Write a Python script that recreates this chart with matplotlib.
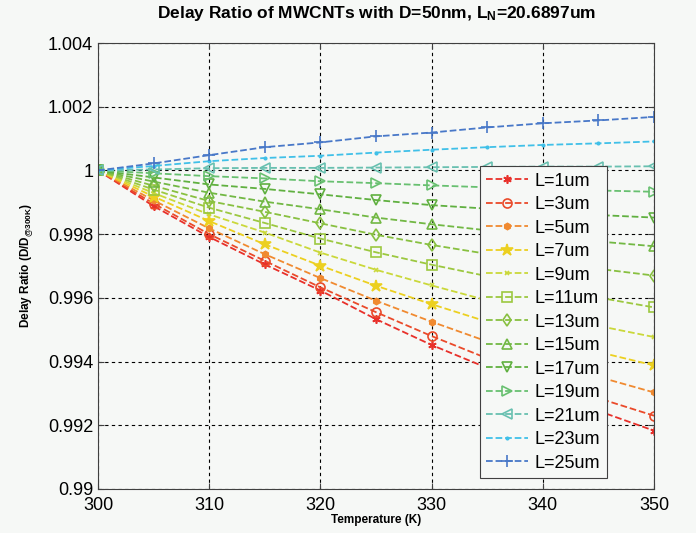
import matplotlib.pyplot as plt

plt.rcParams['font.family'] = ['Liberation Sans', 'DejaVu Sans']
plt.rcParams['mathtext.default'] = 'regular'

# temperature (K)
temps = [300, 305, 310, 315, 320, 325, 330, 335, 340, 345, 350]
lengths = [1, 3, 5, 7, 9, 11, 13, 15, 17, 19, 21, 23, 25]

# delay ratio D/D@300K
r_l1 = [1, 0.99888, 0.99791, 0.99705, 0.99623, 0.99533, 0.99452, 0.99380, 0.99310, 0.99245, 0.99183]
r_l3 = [1, 0.99896, 0.99800, 0.99716, 0.99633, 0.99555, 0.99480, 0.99410, 0.99345, 0.99285, 0.99230]
r_l5 = [1, 0.99906, 0.99818, 0.99737, 0.99662, 0.99591, 0.99525, 0.99463, 0.99405, 0.99352, 0.99303]
r_l7 = [1, 0.99918, 0.99841, 0.99768, 0.99701, 0.99638, 0.99580, 0.99525, 0.99476, 0.99430, 0.99388]
r_l9 = [1, 0.99929, 0.99862, 0.99805, 0.99742, 0.99688, 0.99639, 0.99592, 0.99550, 0.99512, 0.99477]
r_l11 = [1, 0.99940, 0.99883, 0.99835, 0.99786, 0.99743, 0.99704, 0.99668, 0.99634, 0.99601, 0.99570]
r_l13 = [1, 0.99952, 0.99904, 0.99870, 0.99834, 0.99798, 0.99766, 0.99738, 0.99713, 0.99691, 0.99670]
r_l15 = [1, 0.99965, 0.99930, 0.99902, 0.99878, 0.99852, 0.99831, 0.99812, 0.99794, 0.99777, 0.99762]
r_l17 = [1, 0.99978, 0.99956, 0.99942, 0.99925, 0.99907, 0.99891, 0.99880, 0.99869, 0.99860, 0.99852]
r_l19 = [1, 0.99991, 0.99982, 0.99975, 0.99966, 0.99960, 0.99953, 0.99947, 0.99942, 0.99937, 0.99933]
r_l21 = [1, 1.00003, 1.00007, 1.00008, 1.00008, 1.00009, 1.00010, 1.00011, 1.00012, 1.00012, 1.00013]
r_l23 = [1, 1.00014, 1.00029, 1.00039, 1.00046, 1.00056, 1.00065, 1.00073, 1.00080, 1.00085, 1.00091]
r_l25 = [1, 1.00022, 1.00048, 1.00073, 1.00088, 1.00107, 1.00119, 1.00135, 1.00148, 1.00157, 1.00168]

ratios = [r_l1, r_l3, r_l5, r_l7, r_l9, r_l11, r_l13, r_l15, r_l17, r_l19, r_l21, r_l23, r_l25]

colors = ['#e8302a', '#ea4a2a', '#f08a30', '#ecd020', '#cad83a', '#9cc840', '#88c040',
          '#72b844', '#60b040', '#68c070', '#68c0b0', '#40c0e8', '#4878c8']
markers = [(6, 2, 0), 'o', 'h', '*', 'x', 's', 'd', '^', 'v', '>', '<', '.', '+']
msizes = [6, 6.5, 4.5, 9, 3.5, 6.5, 6.5, 6.5, 6.5, 6.5, 6.5, 3.5, 8]
filled = [False, False, True, True, False, False, False, False, False, False, False, True, False]

bg = '#f6f8f6'
fig = plt.figure(figsize=(6.96, 5.33), dpi=100, facecolor=bg)
ax = fig.add_axes([0.1408, 0.0826, 0.7989, 0.8367], facecolor=bg)

for L, r, c, m, ms, f in zip(lengths, ratios, colors, markers, msizes, filled):
    ax.plot(temps, r, linestyle='--', color=c, lw=1.3, marker=m, markersize=ms,
            markerfacecolor=c if f else 'none', markeredgecolor=c, markeredgewidth=1.2,
            label='L=%dum' % L)

ax.set_xlim(300, 350)
ax.set_ylim(0.99, 1.004)
yt = [0.99, 0.992, 0.994, 0.996, 0.998, 1.0, 1.002, 1.004]
ax.set_yticks(yt)
ax.set_yticklabels(['0.99', '0.992', '0.994', '0.996', '0.998', '1', '1.002', '1.004'])
ax.set_xticks([300, 310, 320, 330, 340, 350])
ax.tick_params(direction='in', top=True, right=True, labelsize=13, length=4, color='#404040')
ax.tick_params(axis='x', pad=6)
ax.grid(True, linestyle=(0, (3, 3)), color='black', lw=0.8)
for s in ax.spines.values():
    s.set_color('#404040')

ax.set_title(r'Delay Ratio of MWCNTs with D=50nm, L$_{N}$=20.6897um',
             fontsize=12.5, fontweight='bold', pad=18)
ax.set_xlabel('Temperature (K)', fontsize=8.5, fontweight='bold', labelpad=0)
ax.set_ylabel(r'Delay Ratio (D/D$_{@300K}$)', fontsize=8.5, fontweight='bold', labelpad=9)

leg = ax.legend(loc='lower right', bbox_to_anchor=(0.915, 0.025), borderaxespad=0,
                fontsize=13, fancybox=False, framealpha=1, edgecolor='#404040', facecolor=bg,
                handlelength=2.3, labelspacing=0.36, borderpad=0.35, handletextpad=0.4)
leg.get_frame().set_linewidth(0.8)

fig.savefig('out.png', dpi=100, facecolor=bg)
